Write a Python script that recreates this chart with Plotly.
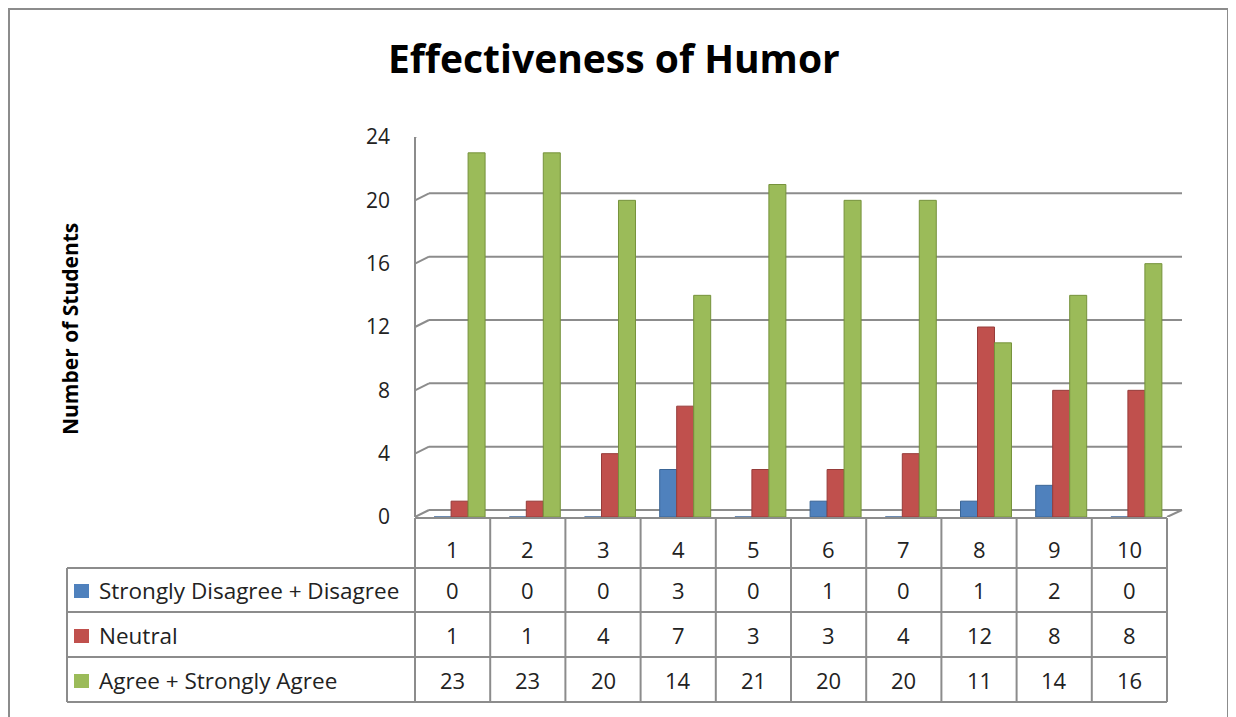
import plotly.graph_objects as go

# ---- data ----
categories = ["1", "2", "3", "4", "5", "6", "7", "8", "9", "10"]
series_names = ["Strongly Disagree + Disagree", "Neutral", "Agree + Strongly Agree"]
disagree = [0, 0, 0, 3, 0, 1, 0, 1, 2, 0]
neutral = [1, 1, 4, 7, 3, 3, 4, 12, 8, 8]
agree = [23, 23, 20, 14, 21, 20, 20, 11, 14, 16]
y_ticks = [0, 4, 8, 12, 16, 20, 24]
title_text = "Effectiveness of Humor"
y_title = "Number of Students"

# ---- styling ----
W, H = 1236, 717
colors = ["#4F81BD", "#C0504D", "#9BBB59"]
edge_colors = ["#3A6596", "#963C3A", "#76923C"]
grid_col = "#8C8C8C"
FONT = "Open Sans"
OFF = 8  # page body margin

def px(x):
    return (x - OFF) / W

def py(y):
    return 1 - (y - OFF) / H

X0, X1 = 415, 1167          # front plot edges (pixels)
Y0, Y1 = 517, 137           # front floor / top (pixels)
DX, DY = 14, 7              # depth offset

fig = go.Figure()
series = [disagree, neutral, agree]
offsets = [-0.246, -0.02, 0.206]
for name, vals, c, ec, off in zip(series_names, series, colors, edge_colors, offsets):
    fig.add_trace(go.Bar(
        x=categories, y=vals, name=name,
        marker=dict(color=c, line=dict(color=ec, width=1)),
        width=0.226, offset=off, showlegend=False,
    ))

shapes = []
line = dict(color=grid_col, width=2)
# outer border
shapes.append(dict(type="rect", xref="paper", yref="paper",
                   x0=px(9), x1=px(1228), y0=py(740), y1=py(9),
                   line=dict(color="#8C8C8C", width=2)))
# back wall gridlines + left wall diagonals
for v in y_ticks:
    shapes.append(dict(type="line", xref="paper", yref="y", ysizemode="pixel",
                       yanchor=v, x0=px(X0 + DX), x1=px(1182), y0=DY, y1=DY,
                       line=line, layer="below"))
    shapes.append(dict(type="line", xref="paper", yref="y", ysizemode="pixel",
                       yanchor=v, x0=px(X0), x1=px(X0 + DX), y0=0, y1=DY,
                       line=line, layer="below"))
# left wall vertical
shapes.append(dict(type="line", xref="paper", yref="y", x0=px(X0), x1=px(X0),
                   y0=0, y1=24, line=line, layer="below"))
# floor right diagonal
shapes.append(dict(type="line", xref="paper", yref="y", ysizemode="pixel",
                   yanchor=0, x0=px(1167), x1=px(1182), y0=0, y1=DY,
                   line=line, layer="below"))

# table
row_lines = [568, 612, 657, 702]
tbl_top = 518
shapes.append(dict(type="line", xref="paper", yref="paper", x0=px(X0), x1=px(X1),
                   y0=py(tbl_top), y1=py(tbl_top), line=line))
for r in row_lines:
    shapes.append(dict(type="line", xref="paper", yref="paper", x0=px(67), x1=px(X1),
                       y0=py(r), y1=py(r), line=line))
shapes.append(dict(type="line", xref="paper", yref="paper", x0=px(67), x1=px(67),
                   y0=py(568), y1=py(702), line=line))
colw = (X1 - X0) / len(categories)
for i in range(len(categories) + 1):
    xx = X0 + i * colw
    shapes.append(dict(type="line", xref="paper", yref="paper", x0=px(xx), x1=px(xx),
                       y0=py(tbl_top), y1=py(702), line=line))

annotations = []
tfont = dict(family=FONT, size=22, color="#222222")
# header row (categories)
for i, c in enumerate(categories):
    annotations.append(dict(x=i, y=py(549), xref="x", yref="paper", text=c,
                            showarrow=False, font=tfont, yanchor="middle"))
row_centers = [590, 635, 680]
for name, vals, col, rc in zip(series_names, series, colors, row_centers):
    for i, v in enumerate(vals):
        annotations.append(dict(x=i, y=py(rc), xref="x", yref="paper", text=str(v),
                                showarrow=False, font=tfont, yanchor="middle"))
    shapes.append(dict(type="rect", xref="paper", yref="paper",
                       x0=px(74), x1=px(89), y0=py(rc - 6), y1=py(rc + 8),
                       fillcolor=col, line=dict(width=0)))
    annotations.append(dict(x=px(97), y=py(rc), xref="paper", yref="paper",
                            text=name, showarrow=False, xanchor="left",
                            yanchor="middle",
                            font=dict(family=FONT, size=22.5, color="#222222")))

# title & y title
annotations.append(dict(x=px(614), y=py(57), xref="paper", yref="paper",
                        text="<b>" + title_text + "</b>", showarrow=False,
                        yanchor="middle",
                        font=dict(family=FONT, size=39, color="#000000")))
annotations.append(dict(x=px(70), y=py(329), xref="paper", yref="paper",
                        text="<b>" + y_title + "</b>", textangle=-90, showarrow=False,
                        xanchor="center", yanchor="middle",
                        font=dict(family=FONT, size=21, color="#000000")))

fig.update_layout(
    width=W, height=H,
    margin=dict(l=0, r=0, t=0, b=0, autoexpand=False),
    paper_bgcolor="white", plot_bgcolor="rgba(0,0,0,0)",
    barmode="overlay",
    shapes=shapes, annotations=annotations,
    xaxis=dict(domain=[px(X0), px(X1)], type="category", range=[-0.5, 9.5],
               showticklabels=False, showgrid=False, zeroline=False, showline=False,
               automargin=False),
    yaxis=dict(domain=[py(Y0), py(Y1)], range=[0, 24], tickvals=y_ticks,
               showgrid=False, zeroline=False, showline=False, ticks="",
               ticklabelstandoff=24, automargin=False,
               tickfont=dict(family=FONT, size=21, color="#222222")),
)

fig.write_html("out.html")
